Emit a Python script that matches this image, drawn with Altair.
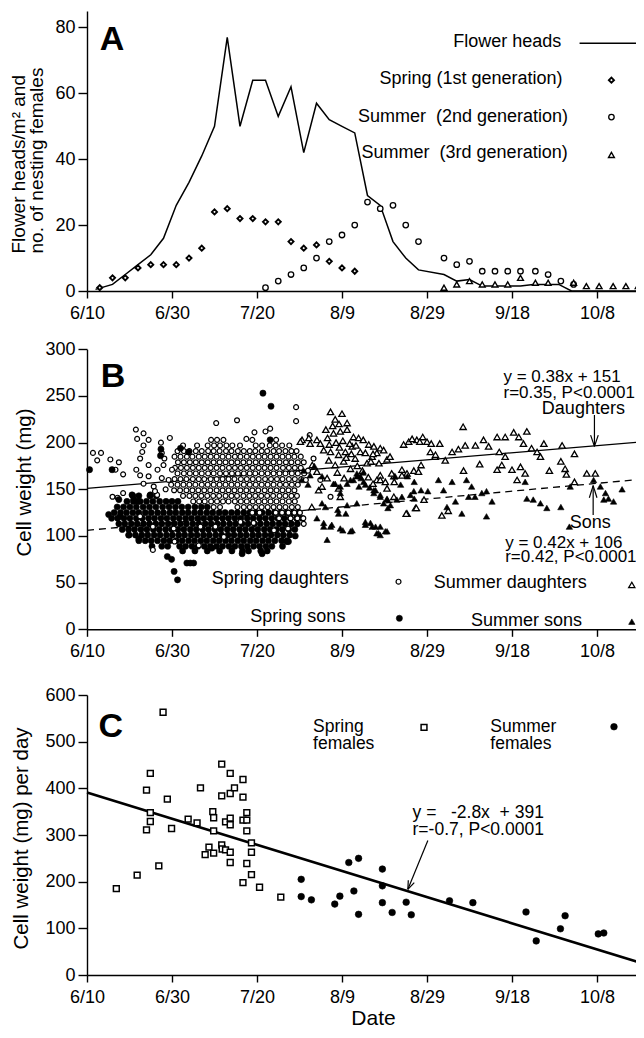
import altair as alt
import pandas as pd

FONT = "Liberation Sans"
X_DOMAIN = [0, 129.18]
DATE_TICKS = [0, 20, 40, 60, 80, 100, 120]
DATE_LABELS = ["6/10", "6/30", "7/20", "8/9", "8/29", "9/18", "10/8"]

# ---------------- Panel A data ----------------
FLOWER_DAY = [2, 6, 9, 12, 15, 18, 21, 24, 27, 30, 33, 36, 39, 42, 45, 48, 51, 54, 57, 60,
              63, 66, 69, 72, 75, 78, 84, 87, 90, 93, 102, 105, 111, 114, 131]
FLOWER_HEADS = [0.5, 2, 5, 8, 11, 16, 26, 33, 41, 50, 77, 50, 64, 64, 53, 62, 42, 57, 52, 50,
                48, 29, 26, 15, 10, 6.4, 5, 3, 3.5, 1.5, 1.5, 2, 2, 0, 0]
SPRING1_DAY = [3, 6, 9, 12, 15, 18, 21, 24, 27, 30, 33, 36, 39, 42, 45, 48, 51, 54, 57, 60, 63]
SPRING1_N = [1, 4, 4, 7, 8, 8, 8, 10, 13, 24, 25, 22, 22, 21, 21, 15, 13, 14, 9, 7, 6]
SUMMER2_DAY = [42, 45, 48, 51, 54, 57, 60, 63, 66, 69, 72, 75, 78, 84, 87, 90, 93, 96, 99,
               102, 105.5, 108.5, 111.5, 114.5]
SUMMER2_N = [1, 3, 5, 7, 10, 15, 17, 20, 27, 25, 26, 20, 15, 10, 8, 9, 6, 6, 6, 6, 6, 5, 3, 2]
SUMMER3_DAY = [84, 87, 90, 93, 96, 99, 102, 105.5, 108.5, 114.5, 117.5, 120.5, 123.8, 126.8, 129.7]
SUMMER3_N = [1, 2, 3, 2, 2, 2, 4, 2.5, 2.5, 2.5, 1.5, 1.5, 1.5, 1.5, 1.5]

# ---------------- Panel B data (day, cell weight mg) ----------------
SPRING_DAUGHTER_ROWS = [
    (203, [29.2, 30.6, 32.1, 38.9, 44.5]),
    (197, [22.6, 25.9, 28.4, 29.9, 31.3, 32.8, 34.2, 36.0, 39.7, 41.2, 43.0, 44.4, 45.9, 47.6]),
    (191, [21.3, 22.8, 24.1, 25.6, 27.0, 28.5, 29.8, 31.2, 32.7, 34.0, 35.5, 36.9, 38.3, 39.6,
           41.1, 42.4, 43.9, 45.2, 46.7, 48.1, 49.3]),
    (185, [20.6, 22.0, 23.5, 24.8, 26.3, 27.7, 29.1, 30.5, 31.9, 33.3, 34.8, 36.1, 37.6, 39.0,
           40.4, 41.8, 43.2, 44.6, 46.0, 47.4, 48.8, 50.3]),
    (179, [21.4, 22.8, 24.2, 25.6, 27.0, 28.4, 29.8, 31.2, 32.6, 34.0, 35.4, 36.8, 38.2, 39.7,
           41.1, 42.5, 43.9, 45.3, 46.8, 48.1, 49.6, 51.0]),
    (173, [20.7, 22.1, 23.5, 24.9, 26.3, 27.7, 29.1, 30.5, 31.9, 33.4, 34.8, 36.2, 37.6, 39.0,
           40.4, 41.8, 43.2, 44.6, 46.1, 47.5, 48.9, 50.3]),
    (167, [21.3, 22.8, 24.2, 25.6, 27.0, 28.5, 29.8, 31.3, 32.7, 34.1, 35.5, 36.9, 38.3, 39.6,
           41.1, 42.5, 43.9, 45.3, 46.7, 48.2, 49.6, 51.1]),
    (161, [20.6, 22.0, 23.4, 24.9, 26.3, 27.6, 29.1, 30.5, 31.9, 33.3, 34.7, 36.2, 37.6, 39.0,
           40.4, 41.9, 43.3, 44.7, 46.0, 47.5, 48.9, 50.4]),
    (155, [19.8, 21.3, 22.7, 24.1, 25.5, 27.0, 28.4, 29.8, 31.2, 32.6, 34.0, 35.4, 36.9, 38.3,
           39.7, 41.1, 42.5, 43.9, 45.4, 46.8, 48.2, 49.6]),
    (149, [20.5, 21.9, 23.4, 24.8, 26.2, 27.6, 29.0, 30.5, 31.9, 33.3, 34.7, 36.1, 37.5, 38.9,
           40.3, 41.8, 43.2, 44.6, 46.0, 47.4, 48.8]),
    (143, [22.6, 24.1, 25.5, 26.9, 28.3, 29.7, 31.1, 32.6, 34.0, 35.3, 36.8, 38.2, 39.6, 41.0,
           42.4, 43.8, 45.3, 46.7, 48.1, 49.4]),
    (137, [25.0, 26.4, 27.7, 29.2, 30.6, 32.0, 33.3, 34.8, 36.2, 37.6, 39.0, 40.4, 41.8, 43.2,
           44.6, 46.0, 47.5, 48.9]),
    (131, [29.8, 31.3, 35.4, 36.9, 38.3, 39.7, 41.1, 42.5, 43.9, 45.3, 46.7, 48.2, 49.6]),
    (125, [38.9, 40.6, 44.4, 45.9, 47.4, 48.8, 50.1]),
    (119, [45.2, 47.9, 49.5, 50.9]),
]
SPRING_DAUGHTER_SCATTER = [
    (1.4, 189), (3.3, 189), (2.4, 181), (5.5, 182), (7.5, 179), (6.7, 171), (8.5, 166),
    (7.2, 141), (8.5, 146), (6.0, 142), (11.5, 214), (13.3, 210), (11.8, 204), (14.5, 203),
    (13.3, 197), (13.0, 190), (12.5, 183), (14.5, 176), (11.6, 171), (12.5, 165), (14.5, 164),
    (13.3, 156), (15.7, 153), (16.5, 144), (17.4, 200), (19.5, 205), (17.6, 189), (18.2, 183),
    (18.0, 176), (16.6, 171), (17.6, 162), (19.2, 160), (20.0, 171), (18.5, 150), (16.0, 148),
    (30.4, 221), (35.3, 224), (37.5, 204), (39.4, 211), (42.0, 212), (43.1, 215), (49.2, 238),
    (49.2, 223), (52.4, 208), (53.3, 183), (52.0, 170), (51.5, 160), (57.3, 142), (54.9, 160),
    (15.5, 85), (20.6, 94), (26.3, 90), (12.5, 121), (15.5, 110), (20.4, 108), (26.7, 110),
    (30.2, 110), (32.2, 99), (36.1, 115), (39.2, 114), (44.0, 106), (47.3, 108), (51.0, 113),
]
SPRING_SON_ROWS = [
    (143, [10.8, 12.2, 14.8, 16.3]),
    (137, [9.4, 10.9, 12.5, 14.0, 15.5, 17.1, 18.6, 20.0, 21.4]),
    (131, [7.1, 8.6, 10.1, 11.6, 13.2, 14.7, 16.2, 17.8, 19.3, 20.8, 22.3, 23.8, 25.4, 26.9, 28.3]),
    (125, [6.4, 7.9, 9.3, 10.8, 12.2, 13.7, 15.1, 16.6, 18.0, 19.5, 20.9, 22.4, 23.8, 25.3, 26.7,
           28.2, 29.6, 31.1, 32.5, 34.0, 35.4, 36.9, 38.3, 39.8, 41.2, 42.7, 44.1, 45.6, 47.0,
           48.5, 49.9]),
    (119, [5.8, 7.2, 8.7, 10.1, 11.6, 13.0, 14.5, 15.9, 17.4, 18.8, 20.3, 21.7, 23.2, 24.6, 26.1,
           27.5, 29.0, 30.4, 31.9, 33.3, 34.8, 36.2, 37.7, 39.1, 40.6, 42.0, 43.5, 44.9, 46.4,
           47.8, 49.3, 50.6]),
    (113, [7.5, 8.9, 10.4, 11.8, 13.3, 14.7, 16.2, 17.6, 19.1, 20.5, 22.0, 23.4, 24.9, 26.3, 27.8,
           29.2, 30.7, 32.1, 33.6, 35.0, 36.5, 37.9, 39.4, 40.8, 42.3, 43.7, 45.2, 46.6, 48.1,
           49.5]),
    (107, [8.3, 9.8, 11.2, 12.7, 14.1, 15.6, 17.0, 18.5, 19.9, 21.4, 22.8, 24.3, 25.7, 27.2, 28.6,
           30.1, 31.5, 33.0, 34.4, 35.9, 37.3, 38.8, 40.2, 41.7, 43.1, 44.6, 46.0, 47.5, 48.9]),
    (101, [9.9, 11.4, 12.9, 14.3, 15.8, 17.2, 18.7, 20.1, 21.6, 23.0, 24.5, 25.9, 27.4, 28.8,
           30.3, 31.7, 33.2, 34.6, 36.1, 37.5, 39.0, 40.4, 41.9, 43.3, 44.8, 46.2, 47.7]),
    (95, [12.2, 13.7, 15.1, 16.6, 18.1, 19.5, 21.0, 22.4, 23.9, 25.3, 26.8, 28.2, 29.7, 31.1,
          32.6, 34.0, 35.5, 36.9, 38.4, 39.8, 41.3, 42.7, 44.2, 45.8, 47.1]),
    (89, [15.3, 17.6, 19.0, 21.8, 23.2, 24.7, 26.1, 27.6, 29.0, 30.5, 31.9, 33.4, 34.8, 36.3,
          37.7, 39.2, 40.6, 42.1, 43.5, 46.0]),
    (84, [22.5, 25.4, 28.3, 31.2, 34.1, 36.6, 38.0, 40.9, 42.4]),
]
SPRING_SON_SCATTER = [
    (0.6, 171), (5.9, 171), (7.5, 139), (5.1, 123), (9.8, 101), (7.8, 121), (11.9, 137),
    (12.2, 97), (18.9, 78), (19.9, 75), (20.5, 62), (21.3, 53), (23.5, 71), (24.3, 71),
    (25.1, 71), (41.4, 253), (43.3, 239), (43.1, 203), (29.4, 87), (36.5, 81), (41.2, 81),
    (47.0, 94), (49.0, 100), (17.4, 193), (17.3, 186), (22.0, 194), (23.9, 190), (10.6, 144),
    (11.0, 139), (14.9, 144), (47.4, 94),
]
SUMMER_DAUGHTERS = [
    (50.6, 203), (52.5, 199), (50.2, 201), (52.2, 205), (54.1, 203), (54.9, 199), (56.6, 205),
    (58.0, 210), (59.6, 212), (61.2, 214), (62.7, 206), (63.9, 205), (65.0, 203), (66.3, 198),
    (67.5, 196), (69.0, 194), (69.8, 192), (55.7, 192), (57.3, 190), (59.2, 187), (60.8, 190),
    (62.4, 196), (64.3, 190), (65.5, 189), (67.1, 185), (68.2, 189), (56.9, 181), (58.4, 176),
    (60.4, 180), (63.1, 183), (65.9, 178), (54.1, 169), (57.3, 233), (60.0, 231), (58.4, 225),
    (61.2, 221), (57.0, 198), (58.6, 200), (60.2, 202), (61.8, 199), (63.3, 197), (59.4, 195),
    (56.2, 214), (57.8, 218), (59.3, 220), (62.2, 188), (61.0, 184), (63.6, 175), (66.8, 180),
    (64.8, 170), (62.0, 172), (58.9, 168), (56.5, 162), (53.0, 176), (60.5, 162), (67.3, 188),
    (68.7, 178), (66.2, 163), (74.5, 198), (75.7, 201), (77.6, 203), (74.1, 171), (75.3, 167),
    (72.2, 164), (69.0, 165), (68.2, 160), (70.6, 151), (75.3, 124), (77.3, 130), (52.9, 131),
    (54.5, 149), (55.3, 153), (59.2, 151), (59.6, 142), (76.5, 204), (79.0, 206), (78.3, 201),
    (80.0, 201), (81.0, 199), (83.0, 199), (80.8, 190), (81.9, 185), (84.3, 181), (85.9, 190),
    (87.4, 193), (88.5, 217), (89.0, 197), (91.4, 197), (93.3, 203), (94.5, 196), (96.5, 206),
    (98.4, 206), (100.4, 211), (101.6, 206), (103.5, 212), (97.0, 190), (98.4, 185),
    (102.7, 199), (104.6, 194), (105.9, 190), (107.5, 199), (106.7, 185), (111.8, 197),
    (114.7, 188), (92.4, 177), (96.5, 171), (97.6, 176), (100.0, 171), (102.0, 174),
    (103.1, 167), (101.2, 160), (108.8, 170), (111.5, 180), (112.5, 172), (112.8, 166),
    (114.7, 158), (117.6, 167), (119.6, 167), (88.6, 170), (83.5, 122), (85.0, 127),
    (75.1, 124), (77.5, 130), (79.3, 139), (78.6, 176), (76.9, 170), (71.7, 167), (72.3, 158),
    (74.1, 165), (78.0, 169), (69.0, 160), (70.2, 158), (67.3, 156), (72.2, 142), (70.6, 182),
    (71.3, 185), (82.0, 187),
]
SUMMER_SONS = [
    (55.7, 110), (57.6, 112), (60.2, 106), (62.4, 106), (65.5, 112), (66.7, 114), (67.9, 110),
    (68.6, 103), (70.2, 105), (69.0, 101), (58.0, 156), (59.6, 146), (61.2, 156), (62.7, 160),
    (64.3, 164), (65.5, 155), (67.5, 149), (69.0, 142), (70.6, 139), (70.8, 130), (72.5, 164),
    (73.8, 155), (75.4, 164), (77.0, 158), (78.6, 149), (77.0, 140), (80.2, 148), (82.7, 160),
    (83.9, 149), (85.9, 158), (86.7, 137), (84.7, 131), (88.2, 124), (89.3, 160), (90.5, 153),
    (91.3, 142), (92.9, 146), (94.0, 148), (95.3, 137), (94.0, 121), (89.8, 142), (103.1, 158),
    (103.5, 140), (105.0, 139), (106.7, 135), (108.2, 130), (111.5, 131), (113.7, 153),
    (113.5, 110), (119.2, 160), (120.8, 153), (122.0, 146), (122.7, 140), (123.9, 137),
    (125.9, 150), (121.6, 139), (60.9, 124), (59.0, 128), (55.3, 135), (56.5, 96),
    (55.3, 164), (58.4, 156), (59.6, 153), (62.0, 160), (63.5, 164), (64.0, 153), (65.1, 158),
    (67.5, 146), (69.0, 144), (70.6, 140), (69.8, 135), (71.4, 133), (67.9, 149), (56.1, 131),
    (59.2, 124), (61.2, 133), (63.5, 135), (54.1, 119), (55.7, 114), (57.3, 110), (59.6, 108),
    (62.0, 105), (65.5, 115), (67.1, 110), (68.2, 103), (69.0, 110), (70.6, 105), (72.9, 139),
    (74.1, 142), (76.1, 144), (76.9, 148), (51.0, 170), (52.5, 165), (53.5, 175), (50.5, 160),
    (52.0, 155), (63.5, 167), (64.5, 162), (65.0, 168), (66.5, 152),
]
DAUGHTER_FIT = [(0, 151), (131, 201)]   # y = 0.38x + 151
SON_FIT = [(0, 106), (131, 161)]        # y = 0.42x + 106

# ---------------- Panel C data (day, cell weight mg per day) ----------------
SPRING_FEMALES = [
    (6.9, 185), (11.8, 214), (14.0, 311), (14.0, 396), (14.9, 432), (14.9, 348), (14.9, 329),
    (16.9, 234), (17.9, 563), (18.9, 377), (19.9, 314), (23.8, 334), (25.9, 326), (26.7, 401),
    (27.8, 258), (28.7, 274), (29.6, 350), (29.8, 337), (29.8, 309), (29.8, 261), (31.7, 452),
    (31.7, 384), (31.7, 279), (31.8, 270), (32.6, 268), (32.6, 328), (33.7, 432), (33.7, 389),
    (33.7, 336), (33.7, 322), (33.7, 263), (33.7, 241), (34.7, 401), (36.7, 419), (36.7, 381),
    (36.7, 332), (36.7, 198), (37.6, 348), (37.6, 332), (37.6, 309), (37.6, 239), (38.7, 283),
    (38.7, 263), (38.7, 215), (40.6, 188), (45.6, 167),
]
SUMMER_FEMALES = [
    (50.4, 205), (50.4, 168), (52.8, 161), (58.3, 152), (59.5, 169), (61.6, 241), (62.8, 180),
    (63.9, 250), (63.9, 130), (69.5, 227), (69.5, 191), (69.5, 155), (71.8, 134), (75.1, 156),
    (76.3, 129), (85.3, 159), (90.8, 155), (103.3, 135), (105.7, 73), (111.4, 99), (112.5, 127),
    (120.3, 88), (121.6, 90),
]
RATE_FIT = [(0, 391), (131, 24)]        # y = -2.8x + 391

# ---------------- layout (one view, three stacked y scales) ----------------
W, H = 549, 964
PANELS = {
    "A": dict(domain=[0, 85], range=[280, 0], ticks=[0, 20, 40, 60, 80], xoffset=-684,
              title=["Flower heads/m\u00b2 and", "no. of nesting females"],
              title_kw=dict(titleX=-77.5, titleY=242, titleAlign="left", titleFontSize=19,
                            titleLineHeight=18)),
    "B": dict(domain=[0, 300], range=[618.3, 338.3], ticks=[0, 50, 100, 150, 200, 250, 300],
              xoffset=-345.7, title="Cell weight (mg)",
              title_kw=dict(titleX=-73, titleY=471, titleAlign="center", titleFontSize=20.5)),
    "C": dict(domain=[0, 600], range=[964, 684], ticks=[0, 100, 200, 300, 400, 500, 600],
              xoffset=0, title="Cell weight (mg) per day",
              title_kw=dict(titleX=-75.5, titleY=827, titleAlign="center", titleFontSize=20.5)),
}
LABEL_EXPR = "[" + ",".join("'%s'" % s for s in DATE_LABELS) + "][round(datum.value / 20)]"


def x_axis(p):
    kw = dict(orient="bottom", offset=PANELS[p]["xoffset"], values=DATE_TICKS,
              labelExpr=LABEL_EXPR, tickSize=7, labelPadding=6, labelFontSize=18,
              labelFlush=False, labelOverlap=False, title=None)
    if p == "C":
        kw.update(title="Date", titleFontSize=21, titleFontWeight="normal", titleX=286,
                  titleY=32, titleBaseline="top", titleAlign="center", titleAngle=0)
    return alt.Axis(**kw)


def y_axis(p):
    cfg = PANELS[p]
    kw = dict(orient="left", values=cfg["ticks"], tickSize=9, labelPadding=3, labelFontSize=18,
              labelOverlap=False, title=cfg["title"], titleAngle=270, titleBaseline="top",
              titleFontWeight="normal")
    kw.update(cfg["title_kw"])
    return alt.Axis(**kw)


def pts(pairs):
    return pd.DataFrame({"x": [q[0] for q in pairs], "y": [q[1] for q in pairs]})


def rows_to_pairs(rows):
    out = []
    for wt, days in rows:
        out.extend((d, wt) for d in days)
    return out


def tdf(items):
    return pd.DataFrame({"x": [i[0] for i in items], "y": [i[1] for i in items],
                         "t": [i[2] for i in items]})


def segs(items):
    return pd.DataFrame({"x": [i[0] for i in items], "y": [i[1] for i in items],
                         "x2": [i[2] for i in items], "y2": [i[3] for i in items]})


def open_pt(shape, size, sw):
    return lambda c: c.mark_point(shape=shape, size=size, fill="white", stroke="black",
                                  strokeWidth=sw, opacity=1, fillOpacity=1, filled=True)


def solid_pt(shape, size):
    return lambda c: c.mark_point(shape=shape, size=size, fill="black", stroke="black",
                                  strokeWidth=0.6, opacity=1, filled=True)


def txt(align, size, bold=False):
    return lambda c: c.mark_text(align=align, baseline="middle", fontSize=size, font=FONT,
                                 fontWeight="bold" if bold else "normal", color="black")


def line_mark(width, dash=None):
    if dash:
        return lambda c: c.mark_line(color="black", strokeWidth=width, strokeDash=dash)
    return lambda c: c.mark_line(color="black", strokeWidth=width)


def rule_mark(width):
    return lambda c: c.mark_rule(color="black", strokeWidth=width)


SEG = {"x2": "x2:Q", "y2": "y2:Q"}
TXT = {"text": "t:N"}
layers = []


def add(p, df, markfn, extra=None, axis=False):
    cfg = PANELS[p]
    X = alt.X("x:Q", scale=alt.Scale(domain=X_DOMAIN, nice=False, zero=False),
              axis=x_axis(p) if axis else None)
    Y = alt.Y("y:Q", scale=alt.Scale(domain=cfg["domain"], range=cfg["range"], nice=False,
                                     zero=False),
              axis=y_axis(p) if axis else None)
    enc = dict(x=X, y=Y)
    if extra:
        enc.update(extra)
    layers.append(markfn(alt.Chart(df)).encode(**enc))


# ---- Panel A
add("A", pd.DataFrame({"x": FLOWER_DAY, "y": FLOWER_HEADS}), line_mark(1.5), axis=True)
add("A", pd.DataFrame({"x": SPRING1_DAY, "y": SPRING1_N}), open_pt("diamond", 26, 1.9))
add("A", pd.DataFrame({"x": SUMMER2_DAY, "y": SUMMER2_N}), open_pt("circle", 30, 1.3))
add("A", pd.DataFrame({"x": SUMMER3_DAY, "y": SUMMER3_N}), open_pt("triangle-up", 34, 1.4))
add("A", tdf([(111.6, 75.6, "Flower heads"), (111.9, 64.3, "Spring (1st generation)"),
              (113.2, 52.9, "Summer\u00a0 (2nd generation)"),
              (113.1, 41.9, "Summer\u00a0 (3rd generation)")]), txt("right", 18), TXT)
add("A", segs([(115.9, 75.2, 129.18, 75.2)]), rule_mark(1.5), SEG)
add("A", pts([(123.4, 64)]), open_pt("diamond", 26, 1.9))
add("A", pts([(123.4, 52.8)]), open_pt("circle", 30, 1.3))
add("A", pts([(123.4, 41.3)]), open_pt("triangle-up", 34, 1.4))
add("A", tdf([(5.9, 76.3, "A")]), txt("center", 34, bold=True), TXT)

# ---- Panel B
add("B", pts(DAUGHTER_FIT), line_mark(1.3), axis=True)
add("B", pts(SON_FIT), line_mark(1.3, [7, 5]))
add("B", pts(rows_to_pairs(SPRING_SON_ROWS)), solid_pt("circle", 38))
add("B", pts(rows_to_pairs(SPRING_DAUGHTER_ROWS) + SPRING_DAUGHTER_SCATTER),
    open_pt("circle", 24, 1.2))
add("B", pts(SPRING_SON_SCATTER), solid_pt("circle", 38))
add("B", pts(SUMMER_DAUGHTERS), open_pt("triangle-up", 40, 1.3))
add("B", pts(SUMMER_SONS), solid_pt("triangle-up", 40))
add("B", tdf([(98.0, 270.6, "y = 0.38x + 151"), (98.0, 252.9, "r=0.35, P<0.0001"),
              (98.4, 92.8, "y = 0.42x + 106"), (98.4, 77.8, "r=0.42, P<0.0001")]),
    txt("left", 17), TXT)
add("B", tdf([(116.8, 235.7, "Daughters"), (118.4, 114.2, "Sons")]), txt("center", 18), TXT)
add("B", segs([(119.4, 229.6, 119.4, 196.0), (118.5, 208.0, 119.4, 196.0),
               (120.3, 208.0, 119.4, 196.0),
               (119.1, 122.5, 119.1, 154.0), (118.2, 141.0, 119.1, 154.0),
               (120.0, 141.0, 119.1, 154.0)]), rule_mark(1.2), SEG)
add("B", tdf([(61.6, 53.9, "Spring daughters"), (117.6, 50.0, "Summer daughters"),
              (60.8, 13.6, "Spring sons"), (116.5, 9.3, "Summer sons")]), txt("right", 18), TXT)
add("B", pts([(73.3, 51)]), open_pt("circle", 24, 1.2))
add("B", pts([(128.2, 47.5)]), open_pt("triangle-up", 40, 1.3))
add("B", pts([(73.5, 11.8)]), solid_pt("circle", 38))
add("B", pts([(128.2, 8.2)]), solid_pt("triangle-up", 40))
add("B", tdf([(6.1, 270.5, "B")]), txt("center", 34, bold=True), TXT)

# ---- Panel C
add("C", pts(RATE_FIT), line_mark(2.6), axis=True)
add("C", pts(SPRING_FEMALES), open_pt("square", 34, 1.5))
add("C", pts(SUMMER_FEMALES), solid_pt("circle", 44))
add("C", tdf([(76.6, 346.5, "y =\u00a0\u00a0 -2.8x\u00a0 + 391"), (76.6, 310.7, "r=-0.7, P<0.0001"),
              (53.2, 531.5, "Spring"), (53.2, 494.5, "females"),
              (94.9, 531.5, "Summer"), (94.9, 494.5, "females")]), txt("left", 17.5), TXT)
add("C", segs([(80.2, 288.0, 75.5, 183.6), (77.0, 197.8, 75.5, 183.6),
               (75.6, 202.9, 75.5, 183.6)]), rule_mark(1.2), SEG)
add("C", pts([(79.3, 530.8)]), open_pt("square", 34, 1.5))
add("C", pts([(124.0, 532.0)]), solid_pt("circle", 44))
add("C", tdf([(5.6, 530.5, "C")]), txt("center", 34, bold=True), TXT)

chart = alt.layer(*layers).resolve_scale(x="independent", y="independent").properties(
    width=W, height=H,
    autosize=alt.AutoSizeParams(type="none"),
    padding={"left": 79, "top": 3, "right": 0, "bottom": 55},
).configure_view(stroke=None).configure_axis(
    grid=False, domainColor="black", tickColor="black", labelColor="black", titleColor="black",
    domainWidth=1.4, tickWidth=1.4, labelFont=FONT, titleFont=FONT
)

chart.save("out.html", embed_options={"renderer": "svg", "actions": False})
